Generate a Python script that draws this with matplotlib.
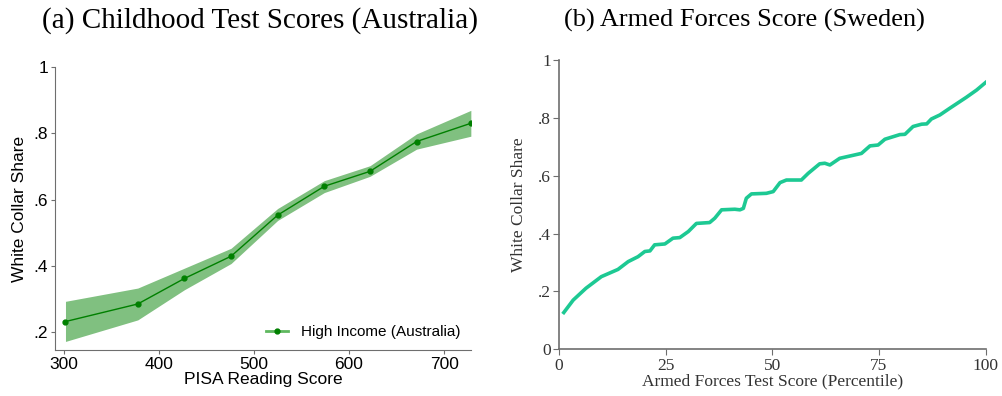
import matplotlib
matplotlib.use('agg')
import matplotlib.pyplot as plt
import numpy as np

# Panel (a): PISA reading score bins, white collar share with 95% band
pisa_score = [302, 378, 427, 476, 525, 574, 622, 671, 728]
pisa_share = [0.232, 0.285, 0.362, 0.429, 0.553, 0.640, 0.685, 0.775, 0.830]
pisa_lo = [0.172, 0.237, 0.328, 0.407, 0.537, 0.621, 0.670, 0.752, 0.791]
pisa_hi = [0.293, 0.333, 0.393, 0.453, 0.573, 0.657, 0.702, 0.798, 0.869]

# Panel (b): armed forces test percentile vs white collar share
afqt_pct = [1.1, 3.3, 6.3, 9.9, 13.8, 16.2, 18.5, 20.1, 21.3, 22.4, 24.8, 26.7,
            28.3, 30.3, 32.2, 35.3, 36.5, 38.1, 41.2, 42.4, 43.2, 43.9, 45.1,
            48.6, 50.2, 51.8, 53.3, 56.8, 58.4, 61.1, 62.3, 63.5, 65.8, 70.9,
            72.9, 74.8, 76.4, 79.9, 81.1, 83.0, 85.0, 86.2, 87.3, 89.3, 91.6,
            95.5, 97.9, 100.0]
afqt_share = [0.127, 0.170, 0.211, 0.251, 0.276, 0.303, 0.320, 0.338, 0.340,
              0.361, 0.364, 0.384, 0.386, 0.407, 0.435, 0.438, 0.453, 0.482,
              0.484, 0.482, 0.487, 0.522, 0.537, 0.539, 0.545, 0.576, 0.585,
              0.585, 0.608, 0.641, 0.643, 0.637, 0.660, 0.677, 0.703, 0.706,
              0.726, 0.742, 0.743, 0.770, 0.778, 0.779, 0.796, 0.810, 0.833,
              0.871, 0.896, 0.922]

fig = plt.figure(figsize=(10.02, 3.96), dpi=100)
spine_col = '#6e6e6e'

# ---- left panel ----
ax1 = fig.add_axes([0.0549, 0.116, 0.415, 0.715])
ax1.fill_between(pisa_score, pisa_lo, pisa_hi, color='#80c080', lw=0)
ax1.plot(pisa_score, pisa_share, color='#008000', lw=1.0, marker='o', ms=3.5,
         label='High Income (Australia)')
ax1.set_xlim(291, 728)
ax1.set_ylim(0.146, 1.0)
ax1.set_xticks([300, 400, 500, 600, 700])
ax1.set_yticks([0.2, 0.4, 0.6, 0.8, 1.0])
ax1.set_yticklabels(['.2', '.4', '.6', '.8', '1'])
ax1.set_xlabel('PISA Reading Score', fontfamily='Liberation Sans', fontsize=12.5, labelpad=0)
ax1.set_ylabel('White Collar Share', fontfamily='Liberation Sans', fontsize=12.5, labelpad=5)
for lab in ax1.get_xticklabels() + ax1.get_yticklabels():
    lab.set_fontfamily('Liberation Sans')
    lab.set_fontsize(12.5)
ax1.spines[['top', 'right']].set_visible(False)
ax1.spines[['left', 'bottom']].set_color(spine_col)
ax1.tick_params(color=spine_col, length=3, direction='out', pad=2)
leg = ax1.legend(loc='lower right', frameon=False, prop={'family': 'Liberation Sans', 'size': 11},
                 handlelength=1.5, borderaxespad=0.3)
leg.get_lines()[0].set_color('#5fb85f')
leg.get_lines()[0].set_markerfacecolor('#008000')
leg.get_lines()[0].set_markeredgecolor('#008000')
leg.get_lines()[0].set_linewidth(2.0)
fig.text(0.259, 0.948, '(a) Childhood Test Scores (Australia)', ha='center', va='center',
         fontfamily='Liberation Serif', fontsize=21)

# ---- right panel ----
ax2 = fig.add_axes([0.558, 0.118, 0.4256, 0.7306])
ax2.plot(afqt_pct, afqt_share, color='#1dc993', lw=2.6, solid_joinstyle='round')
ax2.set_xlim(0, 100)
ax2.set_ylim(0, 1)
ax2.set_xticks([0, 25, 50, 75, 100])
ax2.set_yticks([0, 0.2, 0.4, 0.6, 0.8, 1.0])
ax2.set_yticklabels(['0', '.2', '.4', '.6', '.8', '1'])
ax2.set_xlabel('Armed Forces Test Score (Percentile)', fontfamily='Liberation Serif',
               fontsize=12.5, color='#333333', labelpad=0)
ax2.set_ylabel('White Collar Share', fontfamily='Liberation Serif', fontsize=12.5,
               color='#333333', labelpad=8)
for lab in ax2.get_xticklabels() + ax2.get_yticklabels():
    lab.set_fontfamily('Liberation Serif')
    lab.set_fontsize(12.5)
    lab.set_color('#333333')
ax2.spines[['top', 'right']].set_visible(False)
ax2.spines[['left', 'bottom']].set_color(spine_col)
ax2.spines[['left', 'bottom']].set_linewidth(1.2)
ax2.tick_params(color=spine_col, length=4, direction='out', pad=2)
fig.text(0.743, 0.948, '(b) Armed Forces Score (Sweden)', ha='center', va='center',
         fontfamily='Liberation Serif', fontsize=19)

plt.savefig('out.png', dpi=100)
